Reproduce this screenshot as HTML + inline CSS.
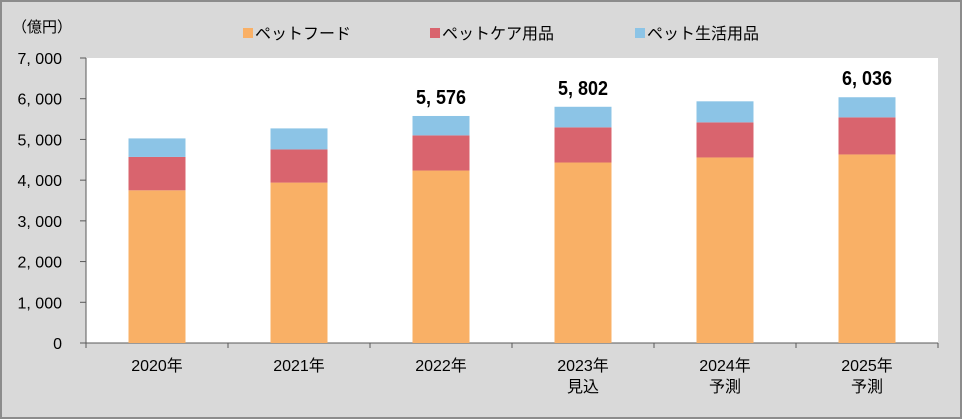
<!DOCTYPE html>
<html><head><meta charset="utf-8"><style>
body{margin:0;width:962px;height:419px;overflow:hidden;background:#fff}
svg{display:block;font-family:"Liberation Sans","Noto Sans CJK JP",sans-serif}
</style></head><body>
<svg id="chart" width="962" height="419" xmlns="http://www.w3.org/2000/svg"></svg>
<script>
const categories=["2020年","2021年","2022年","2023年\n見込","2024年\n予測","2025年\n予測"];
const food=[3750,3940,4236,4433,4557,4631];
const care=[820,814,863,863,862,911];
const life=[455,517,477,506,517,494];
const totalLabels=["","","5,576","5,802","","6,036"];
const yTicks=[0,1000,2000,3000,4000,5000,6000,7000];
const seriesNames=["ペットフード","ペットケア用品","ペット生活用品"];
const colors=["#f9b066","#d9646e","#8cc4e6"];
const NS="http://www.w3.org/2000/svg";
const svg=document.getElementById('chart');
const X0=86,X1=938,Y0=343,Y1=58,YMAX=7000;
const band=(X1-X0)/categories.length;
const y=v=>Y0-(v/YMAX)*(Y0-Y1);
const xc=i=>X0+band*(i+0.5);
function mk(t,a){const e=document.createElementNS(NS,t);for(const k in a)e.setAttribute(k,a[k]);svg.appendChild(e);return e;}
let e;
e=mk('rect',{x:1,y:1,width:960,height:417,fill:'#d9d9d9',stroke:'#8c8c8c','stroke-width':2});


e=mk('rect',{x:X0,y:Y1,width:X1-X0,height:Y0-Y1,fill:'#fff'});


e=mk('text',{x:12,y:32,'font-size':15,fill:'#000'});e.textContent='（億円）';


yTicks.forEach(t=>{
 const tx=mk('text',{x:62,y:y(t)+6,'font-size':16,'text-anchor':'end',fill:'#000'});
 tx.textContent=t===0?'0':t.toLocaleString('en-US').replace(',',', ');
 
 
 const l=mk('line',{x1:80,x2:X0,y1:y(t),y2:y(t),stroke:'#595959'});
 
 
});
e=mk('line',{x1:X0,x2:X0,y1:Y1,y2:Y0,stroke:'#595959'});


e=mk('line',{x1:X0,x2:X1,y1:Y0,y2:Y0,stroke:'#595959'});


for(let i=0;i<=categories.length;i++){
 const l=mk('line',{x1:X0+band*i,x2:X0+band*i,y1:Y0,y2:Y0+5,stroke:'#595959'});
 
 
}
const BW=57;
categories.forEach((c,i)=>{
 let base=0;
 [food,care,life].forEach((s,k)=>{
  const r=mk('rect',{x:xc(i)-BW/2,y:y(base+s[i]),width:BW,height:y(base)-y(base+s[i]),fill:colors[k]});
  
  
  base+=s[i];
 });
 if(totalLabels[i]){
  const t=mk('text',{x:xc(i),y:y(base)-12,'font-size':20,'font-weight':'bold','text-anchor':'middle',fill:'#000',textLength:50,lengthAdjust:'spacingAndGlyphs'});
  t.textContent=totalLabels[i].replace(',',', ');
  
  
 }
 c.split('\n').forEach((ln,j)=>{
  const t=mk('text',{x:xc(i),y:371+j*21,'font-size':16,'text-anchor':'middle',fill:'#000'});
  t.textContent=ln;
  
  
 });
});
const lx=[243,430,635];
seriesNames.forEach((n,k)=>{
 const r=mk('rect',{x:lx[k],y:28,width:10,height:10,fill:colors[k]});
 
 
 const t=mk('text',{x:lx[k]+12,y:39,'font-size':16,fill:'#000'});
 t.textContent=n;
 
 
});
</script>
</body></html>
